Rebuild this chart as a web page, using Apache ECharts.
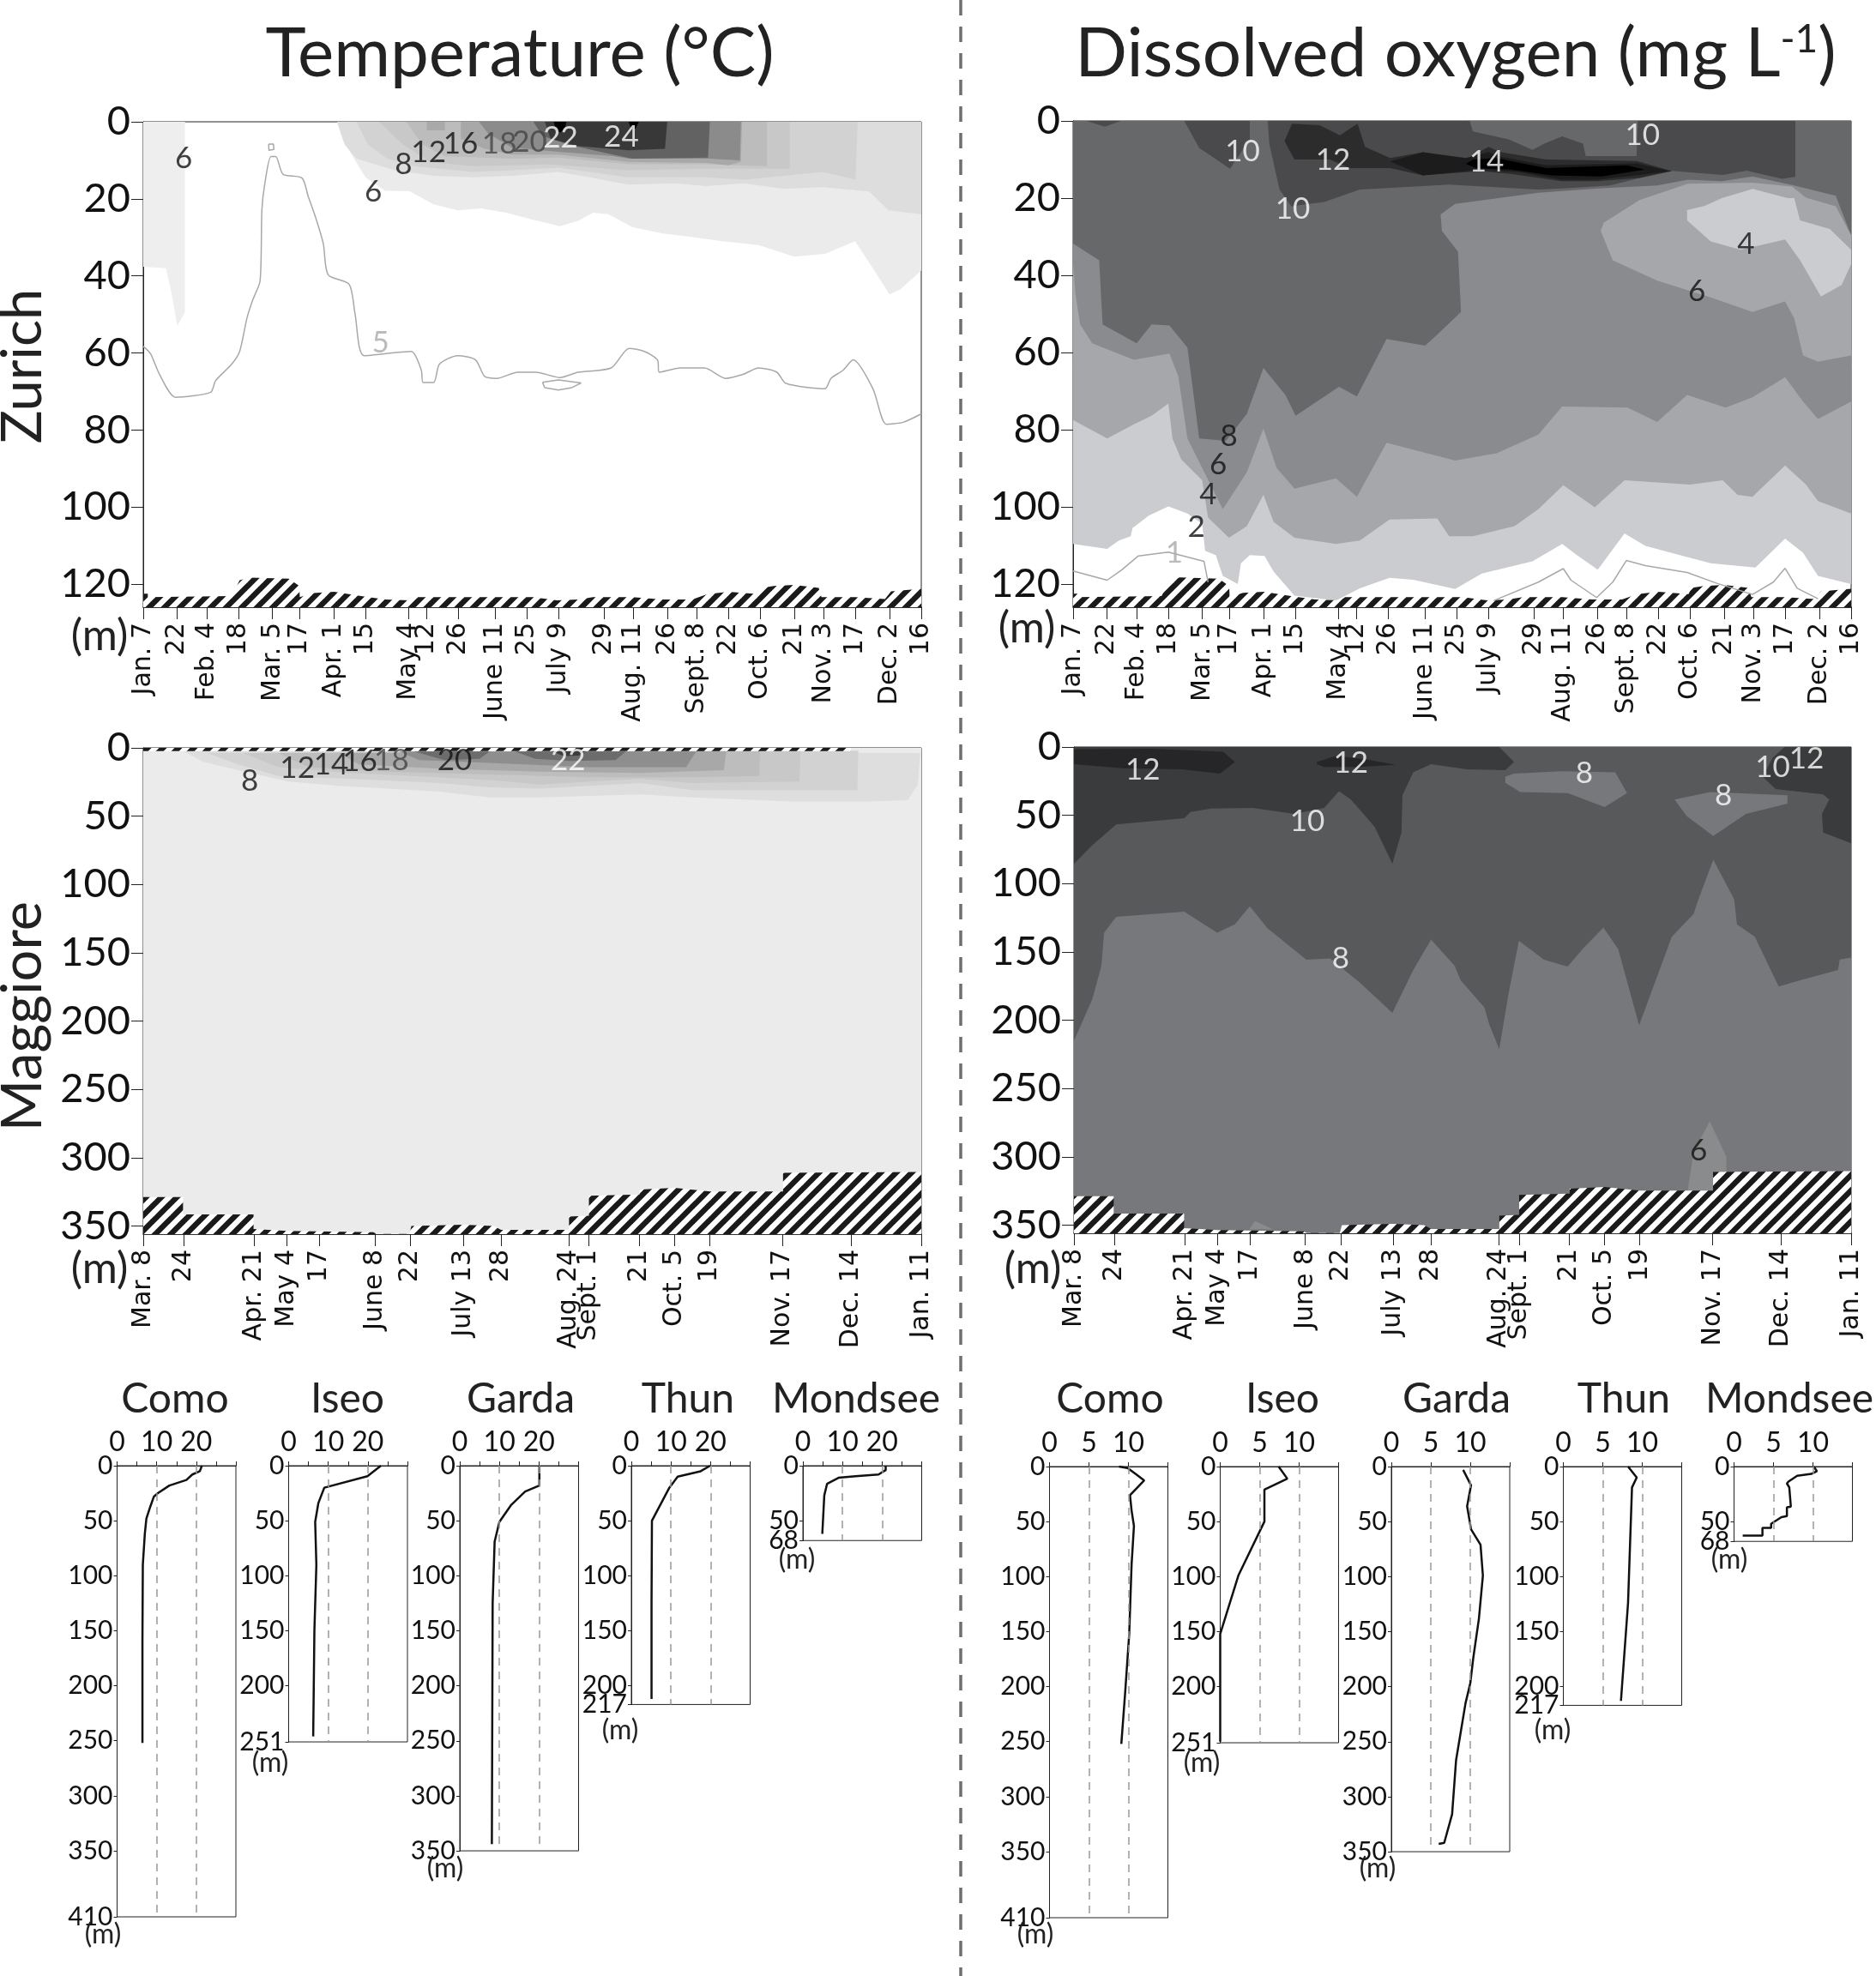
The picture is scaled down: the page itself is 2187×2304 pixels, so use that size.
<!DOCTYPE html>
<html>
<head>
<meta charset="UTF-8">
<title>Temperature and dissolved oxygen</title>
<script src="https://cdn.jsdelivr.net/npm/echarts@6/dist/echarts.min.js"></script>
<style>
html, body { margin: 0; padding: 0; background: #fff; }
#main { width: 2187px; height: 2304px; }
</style>
</head>
<body>
<div id="main"></div>
<script>
// sampling dates, as day of year (Maggiore runs on into the next January)
var zurDays = [7, 22, 35, 49, 64, 76, 91, 105, 124, 132, 146, 162, 176, 190, 210, 223, 238, 251, 265, 279, 294, 307, 321, 336, 350];
var zurDayLabels = ['Jan. 7', '22', 'Feb. 4', '18', 'Mar. 5', '17', 'Apr. 1', '15', 'May 4', '12', '26', 'June 11', '25', 'July 9', '29', 'Aug. 11', '26', 'Sept. 8', '22', 'Oct. 6', '21', 'Nov. 3', '17', 'Dec. 2', '16'];
var magDays = [67, 83, 111, 124, 137, 159, 173, 194, 209, 236, 244, 264, 278, 292, 321, 348, 376];
var magDayLabels = ['Mar. 8', '24', 'Apr. 21', 'May 4', '17', 'June 8', '22', 'July 13', '28', 'Aug. 24', 'Sept. 1', '21', 'Oct. 5', '19', 'Nov. 17', 'Dec. 14', 'Jan. 11'];
var zurDepthTicks = [0, 20, 40, 60, 80, 100, 120];
var magDepthTicks = [0, 50, 100, 150, 200, 250, 300, 350];

// lake bottom, [day, depth]
var zurBottom = [[7,122.5],[9,122.5],[9,123.4],[46,123.1],[49.5,119],[54,118.3],[71.2,118.6],[75.8,120.5],[76,123.4],[81.9,122.3],[91.2,122],[103,123.1],[113.7,124],[124.3,124.2],[127,123.4],[178.8,123.4],[189.4,124.2],[198.7,124],[205.3,123.4],[222.6,123.4],[235.8,124],[249,124],[255.7,122.6],[265,122],[278.3,122.6],[279.6,121],[285,120.5],[294,120.2],[304.8,121],[306,123.4],[320.8,123.4],[334,123.9],[336.7,121.9],[350,121.2]];
var magBottom = [[67,328.8],[82.8,328.8],[82.8,341.5],[110.8,341.5],[110.8,352.2],[124.2,353.7],[158.4,354.6],[159.6,355.8],[172.7,355.8],[173.5,350],[194,349.1],[206.2,350],[209.1,352.8],[236.1,352.8],[236.1,343.1],[244,342.5],[244,327.9],[264.1,327],[264.1,323.3],[278,322.1],[292.1,324.8],[321.1,324.8],[321.1,311.1],[376,310.5]];
var magTopHatch = [[67,2.4],[348,2.4]];

// Zurich temperature, isotherm outlines [day, depth]
var zurT6a = [[7,0],[7,37.6],[17,38],[19.5,44.6],[22,53],[25.4,49.4],[25.4,0]];
var zurT6 = [[92.5,0],[95,4.7],[100.4,10],[105,14.4],[113.7,17.9],[124.3,18],[135,21.4],[145.6,23],[156,22.5],[167,23.6],[177.4,25.2],[190.7,27.1],[198.7,25.7],[205.3,23.6],[212,24],[222.6,27.3],[236,29],[246.4,29.7],[262.4,31],[278.3,32],[294,35],[307.5,34.3],[320.8,31],[328.7,38],[336,44.8],[340.7,43.5],[350,38.6],[350,0]];
var zurT8 = [[92.4,0],[95.8,5.9],[101,9.6],[118,12.6],[135,14],[152,14.4],[169.5,14],[190,13],[203.7,14.4],[220.8,16.3],[241.4,16],[255,16.7],[272,16],[289.4,17.4],[306.5,17],[327,18.1],[335.6,23],[350,24],[350,0]];
var zurT10 = [[101,0],[106,5.9],[114.6,9.6],[126.6,11.5],[152,13],[169.5,12.6],[190,11.9],[220.8,14.4],[255,14.4],[272,15],[306.5,13],[321,15],[322,0]];
var zurT12 = [[111,0],[121.5,5.9],[133.5,10.4],[152,11.5],[186.6,11.1],[220.8,12.6],[255,12.2],[292,12.2],[292,0]];
var zurT14 = [[123,0],[130,5.9],[140,8.9],[169.5,9.6],[190,9.3],[221,11],[255,11],[270,11.3],[282,11.5],[282,0]];
var zurT14b = [[132,0],[132,2.2],[140,2.2],[140,0]];
var zurT16 = [[147,0],[147,4.4],[157.5,7],[169.5,8.5],[190,8.5],[221,10.4],[255,10.7],[265,11.3],[270.5,10.4],[271,0]];
var zurT18 = [[155,0],[159,3],[169.5,6.7],[190,7.8],[214,8.9],[221,9.6],[257,9.6],[270,10],[270.5,0]];
var zurT20 = [[179,0],[183,3.7],[195,6],[214,8.5],[222.6,9.6],[256,9.3],[256.8,0]];
var zurT22 = [[184,0],[186.6,4.4],[198.6,6.3],[221,7.4],[237,7],[238,0]];
var zurT24a = [[188,0],[189,2.2],[191,2.8],[193,1.5],[193.5,0]];
var zurT24b = [[221,0],[222,1.6],[224,1.8],[225.5,0]];
var zurT5 = [[7,58.3],[10.2,60.2],[14.2,65.6],[21.3,71.5],[36.7,70.2],[38.9,67.2],[46,62.9],[49.5,59.6],[52.7,51],[55.3,46.2],[58.5,41.3],[59.3,23],[60.6,16],[63.3,9],[65.4,9],[68.6,13.6],[77,14.6],[79.7,19.3],[83.2,25.2],[86.4,31.7],[88.5,39.7],[97.8,42.2],[100.4,50],[104.4,60.7],[125.1,59.6],[129.6,64.5],[130.4,67.7],[135,67.7],[137.6,62.9],[145.6,60.7],[153.5,61.8],[157.5,66.1],[162.8,66.6],[172.1,65],[180,65],[190.7,66.4],[198.7,65],[213.3,63.9],[221.2,58.8],[227.9,59.6],[233.7,61.8],[234.5,65],[243.8,63.9],[254.4,63.9],[263.7,66.6],[271.7,65.5],[278.3,63.9],[286.3,65],[290.3,67.9],[307.5,69.3],[310.2,66.6],[315.5,64.5],[320,61.8],[328.7,69.3],[334.6,78.5],[342,78],[350,75.8]];
var zurT5lensA = [[183,67.6],[190,67],[200,67.8],[196,69],[190,69.6],[184,69],[183,67.6]];
var zurT5lensB = [[62.3,5.8],[64.4,5.8],[64.6,7.2],[62.4,7.4],[62.3,5.8]];

// Zurich oxygen, isopleth outlines [day, depth]
var zurO2 = [[7,109.6],[22,110.9],[27.2,108.7],[32.4,107.6],[33.2,105.5],[40.3,102.3],[49,99.9],[57.4,101.7],[63.9,104.4],[65.2,111.4],[69.9,112.5],[73,117.9],[79.6,120],[81,114.6],[84.9,112.5],[91.4,112.7],[95.4,116.8],[104.6,123],[122.9,124.3],[133.4,121.1],[146.5,118.4],[157,118.9],[175.4,121.3],[187.2,117.3],[209.5,114.1],[222.6,109.6],[229.1,112.5],[238.3,116.3],[250.1,106.9],[259.3,110.1],[277.7,113],[288.1,114.6],[307.8,115.7],[320.9,108.2],[328.8,111.9],[335.4,117.9],[350,120]];
var zurO4 = [[7,77.5],[22,82.3],[33.8,78.6],[41.6,76.4],[49,73.2],[50.8,82.3],[54.7,87.7],[63.9,93.1],[66.5,102.8],[75.7,108],[83.6,105],[90.9,96.9],[95.4,103.9],[104.6,108],[122.9,109.6],[133.4,108.7],[146.5,103.3],[167.5,103],[172.8,107.6],[183.2,107.6],[201.6,105],[212.1,100.6],[223.1,94.4],[237,100.1],[250.1,93.1],[279,94.2],[293.4,93.1],[300,96.9],[306.5,97.4],[320.9,89.3],[330.1,94.2],[335.4,98.5],[350,101.7]];
var zurO6 = [[7,37],[8,44.7],[10.1,52.7],[15.4,57.6],[33.8,61.9],[49.5,60.3],[53.4,66.2],[57.4,82.3],[73,100.6],[83.6,91],[90.9,79.7],[96.7,89.9],[104.6,95.3],[122.9,92.6],[132.1,97.4],[145.2,83.4],[175.4,88],[193.7,86.1],[212.1,81.3],[222.6,74],[251.4,74.3],[264.5,78],[277.7,71],[294.7,74.3],[306.5,71.6],[320.9,66.4],[328.8,72.7],[335.4,77.2],[350,72.7]];
var zurO8 = [[7,31.8],[18.5,36.1],[20,52.7],[35,57.6],[41.6,52.7],[49.5,53],[57.4,58.7],[62.6,82.3],[74.4,82.9],[83.6,75.9],[90.9,64],[100.6,71],[105.1,76.4],[124.2,68.9],[132.1,71.4],[145.2,56.5],[162.2,58.2],[167.5,55.4],[178,49.5],[176.7,33.9],[169.6,28.5],[169,24.2],[175.4,21.5],[212.1,18.6],[238.3,17.5],[264.5,16.7],[278,15.2],[293,15.6],[306.6,14.4],[324.9,16.7],[343.2,19.4],[350,29.6]];
var zurOlens6 = [[239.6,28.5],[244.9,36.1],[264.5,41.4],[288.1,45.7],[306.5,49.5],[320.9,46.8],[324.9,51.1],[328.8,60.8],[335.4,62.4],[350,60.8],[350,29.6],[343.2,22.1],[330.1,19.9],[324,17],[306.6,16],[278,16.3],[256.7,20.5],[240.9,26.4]];
var zurOlens4 = [[277.7,23.1],[277.7,25.8],[288.1,31.2],[301.3,33.4],[320.9,30.7],[327.5,36.1],[336.7,45.5],[345.8,42.5],[350,37.1],[350,33.4],[340.6,28],[327.5,25.8],[324.9,20],[322,20],[306.6,17.6],[293,20],[285.5,22]];
var zurO10 = [[92.8,0],[93.5,5.9],[98,17.8],[103.2,22.1],[117.7,21],[133.4,17.8],[172.8,16.5],[212.1,17.8],[222.6,17.5],[243.6,16.7],[269.8,12.9],[293.4,14],[303.9,12.9],[319.6,15],[325.4,14.5],[325.4,0]];
var zurO10a = [[13,0],[21,1.5],[28,0]];
var zurO10b = [[56,0],[62.6,7],[76.2,12.4],[84.9,4.8],[84.9,0]];
var zurO10hole = [[181.9,0],[183.2,2.7],[199,4.8],[209.5,7.5],[214.7,5.9],[222.6,4],[231.8,5.9],[233,9.1],[255.4,9.1],[256,0]];
var zurO12 = [[103.5,0.7],[115.7,1.1],[124.6,3.7],[132.4,0.7],[135.7,6.7],[146.8,9.6],[161.2,8.1],[180.1,10],[190.1,6.7],[195.6,8.1],[215.6,10],[255.6,10.4],[271.1,13],[256.7,14.8],[237.8,15.6],[222.3,15.6],[200,13.7],[186.8,13],[161.2,14.1],[146.8,12.2],[129,12.2],[120.2,10],[104.6,10],[100.2,5.2]];
var zurO13 = [[146.8,10.5],[161.2,8.1],[180.1,9.6],[190.1,8.1],[195.6,9.3],[215.6,11.5],[255.6,11],[270,13],[256.7,14],[237.8,15.2],[222.3,15.2],[204,13.3],[186.8,12.6],[161.2,14.1]];
var zurO14 = [[180.1,11.1],[183.4,10],[193.4,9.6],[215.6,12.2],[251.2,11.5],[259,12.6],[240,14.4],[217.8,14.1],[200,12.6],[184.6,12.2]];
var zurO1a = [[7,116.6],[22,119],[28.5,116.3],[35.8,112.7],[49,111.7],[64.7,114.1],[66.5,119.5]];
var zurO1b = [[192.4,124.3],[212.1,119.5],[223.1,116],[226.5,119],[237.8,123.5],[244.9,119.5],[250.9,113.9],[259.3,115.2],[277.7,117],[290.8,119.8],[306.5,122.7],[315.7,119.5],[320.9,115.9],[326.2,121.1],[335.4,123.8]];

// Maggiore temperature
var magT8 = [[82.6,2],[90.6,10],[104.6,16.3],[124.6,24.7],[144.6,27.8],[184.6,32],[204.6,36.2],[224.6,36.2],[264.6,34.1],[284.6,36.2],[324.6,39.3],[354.6,39.3],[370.6,38.3],[374.6,26.8],[375.6,3.8]];
var magT10 = [[92.6,3.8],[104.6,12.1],[120.6,20.5],[148.6,22.6],[184.6,25.7],[204.6,28.9],[224.6,29.9],[264.6,25.7],[284.6,31],[350.6,31],[351,2]];
var magT12 = [[106.6,3.8],[120.6,14.2],[148.6,18.4],[184.6,21.5],[204.6,23.6],[224.6,26.8],[264.6,22.6],[284.6,25.7],[327.6,24.7],[328,2]];
var magT14 = [[120.6,3.8],[132.6,14.2],[164.6,17.4],[204.6,19.5],[244.6,21.5],[284.6,21.5],[311.6,20.5],[312,2]];
var magT16 = [[144.6,3.8],[152.6,12.1],[184.6,15.3],[224.6,17.4],[264.6,18.4],[297.6,16.3],[298.6,2]];
var magT18 = [[168.6,2.7],[176.6,9],[204.6,11],[244.6,14.2],[282.6,14.2],[286.6,2.7]];
var magT20a = [[174.6,2.7],[186.6,9],[200.6,8],[204.6,2.7]];
var magT20b = [[214.6,2.7],[222.6,8],[236.6,9.6],[254.6,9],[258.6,2.7]];
var magT22 = [[228.6,2],[234,6],[240,5.6],[243,2]];

// Maggiore oxygen
var magO8 = [[67,215],[74.3,184.6],[77.9,160.2],[79,135.9],[83.8,124.3],[110.9,120.6],[123.9,135.9],[131,129.8],[136.9,116.7],[144,132.8],[159.4,155.7],[168.8,154.7],[180.6,172.4],[193.6,194.6],[201.9,163.3],[209,141],[218.4,160.2],[220.8,170.9],[230.2,190.7],[232.1,202.9],[236.1,221.1],[239.7,181.5],[243.9,141.9],[253.9,155.7],[263.3,160.8],[269.2,148],[277.5,132.2],[283.4,148],[291.7,203.8],[304.7,138.9],[313.4,122.1],[315.3,111.5],[321.2,82.5],[329.5,111.5],[330.6,129.8],[337.7,138.9],[347.2,175.4],[355.4,170.9],[370.8,163.3],[371.5,155.6],[376,154.1]];
var magO10a = [[67,0],[67,85.6],[74.3,71.9],[83.8,56.7],[110.9,52.1],[113.3,47.5],[121.6,45.1],[138.1,44.5],[154.6,49],[166.5,44.5],[172.4,32.3],[177.1,38.4],[186.5,58.2],[193.6,85.6],[197.2,62.7],[197.6,35.3],[201.9,18.6],[209,12.5],[223.2,16.4],[238.5,17],[242,11],[236.1,0]];
var magO10b = [[349.5,0],[344.8,7.9],[340.8,21.6],[346,30.8],[364.9,34.7],[367.3,38.4],[364.4,49],[364.9,62.7],[376,70.4],[376,0]];
var magO12a = [[67,1.8],[98,1.2],[126.3,3.4],[131,11],[125.1,19.5],[109.8,16.4],[86.1,15.5],[67,12.5]];
var magO12b = [[163.6,11],[171.2,6.4],[184.2,9.4],[194.8,13.1],[180.6,14.6],[166.5,14.6],[163.6,12.5]];
var magOlens1 = [[238.5,21.6],[242,19.5],[260.9,17.7],[282.2,18.6],[286.9,33.8],[278,43.9],[263.3,33.8],[244.4,32.9],[238.5,26.2]];
var magOlens2 = [[305.8,38.4],[320,32.9],[350.7,35.3],[350.7,41.4],[334.2,49],[321.2,65.2],[310.6,50.6]];
var magO6a = [[311,325],[313.4,296],[319.8,274],[326.4,300],[326.4,312],[321,325]];
var magO6b = [[136.7,353],[139,347],[146,353]];

// contour labels, [day, depth, text]
var zurTLabels = [[24.8,9.6,'6'],[108.4,18.2,'6'],[121.7,11,'8'],[132.8,8,'12'],[146.9,5.8,'16']];
var zurTLabelsGrey = [[164,5.8,'18'],[177.4,5.3,'20']];
var zurTLabelsWhite = [[191,4.2,'22'],[217.8,3.9,'24']];
var zurTLabelsPale = [[111.6,57.3,'5']];
var zurOLabels = [[303.6,32,'4'],[282,44.1,'6'],[75.7,81.8,'8'],[71,89,'6'],[66.5,96.9,'4'],[61.3,105.2,'2']];
var zurOLabelsWhite = [[81.7,8,'10'],[121.6,10.2,'12'],[103.8,22.9,'10'],[189.3,10.5,'14'],[258,3.8,'10']];
var zurOLabelsPale = [[51.6,112,'1']];
var magTLabels = [[109.3,24.6,'8'],[128.2,14.6,'12'],[141.6,12.5,'14'],[153,10,'16'],[190.7,9.4,'20']];
var magTLabelsGrey = [[165.6,9.4,'18']];
var magTLabelsWhite = [[235.7,9.1,'22']];
var magOLabels = [[315.3,295.8,'6']];
var magOLabelsWhite = [[94.4,17,'12'],[177.1,11.6,'12'],[159.8,54.5,'10'],[269.9,19.2,'8'],[325.2,35.3,'8'],[344.8,14.6,'10'],[358.3,8.8,'12'],[173,155,'8']];

// mean profiles of the other lakes, [value, depth]
var lakeNames = ['Como', 'Iseo', 'Garda', 'Thun', 'Mondsee'];
var lakeDepthTicks = [
    [0, 50, 100, 150, 200, 250, 300, 350, 410],
    [0, 50, 100, 150, 200, 251],
    [0, 50, 100, 150, 200, 250, 300, 350],
    [0, 50, 100, 150, 200, 217],
    [0, 50, 68]
];
var comoT = [[21.4,0],[20.9,5],[19,8],[17.5,13],[13.2,18],[10.3,25],[9.3,28],[8.4,37],[7.4,48],[7,62],[6.5,90],[6.4,160],[6.4,252]];
var iseoT = [[23.3,0],[19.9,9.5],[9,20],[7.5,34],[6.7,51],[7,90],[6.5,150],[6.2,246]];
var gardaT = [[20.1,0],[20.1,18],[16.5,23.5],[12.9,36],[10,51],[8.8,69],[8.3,125],[8.1,344]];
var thunT = [[19.9,0],[17.5,5],[11.7,10],[9.6,20],[5.2,50],[5.1,125],[5.1,212]];
var mondseeT = [[20.9,0],[20.9,4],[19.1,8],[13.3,9.5],[9,11],[6.1,16.5],[5.4,27],[4.9,62]];
var comoO = [[8.8,0],[9.9,1.4],[10.9,6.7],[12,12.6],[11.4,17],[10.2,26],[10.4,40],[10.7,54],[10.4,89],[10.1,152],[9.6,204],[9.1,252]];
var iseoO = [[7.4,0],[8.5,11],[5.6,21],[5.6,50],[2.3,99],[0,152],[0,250]];
var gardaO = [[9.1,3],[10.1,17],[9.6,36],[10.1,57],[11.3,71],[11.6,99],[11.1,138],[10.4,173],[10,197],[9.4,215],[8.2,267],[7.7,316],[6.7,342],[6,343]];
var thunO = [[8.2,0],[9.3,10],[8.7,19],[8.2,124],[7.3,213]];
var mondseeO = [[10.1,0],[10.5,4.2],[9.8,6.7],[8,8.4],[6.9,13.6],[6.7,15.4],[7,18.9],[7.2,36.4],[6.7,37],[6.7,45],[6,46],[4.7,52],[4.7,55.7],[3.6,55.7],[3.6,62.7],[1.1,62.7]];

var fontName = 'Lato';
var series = [], grids = [], xAxes = [], yAxes = [], lastTickAxes = [];

// diagonal hatching for the lake bottom
function hatchPattern() {
    var c = document.createElement('canvas');
    c.width = 18; c.height = 18;
    var g = c.getContext('2d');
    g.fillStyle = '#fff';
    g.fillRect(0, 0, 18, 18);
    g.strokeStyle = '#1a1a1a';
    g.lineWidth = 6.5;
    [[-9, 9, 9, -9], [-9, 27, 27, -9], [9, 27, 27, 9]].forEach(function (s) {
        g.beginPath(); g.moveTo(s[0], s[1]); g.lineTo(s[2], s[3]); g.stroke();
    });
    return { image: c, repeat: 'repeat' };
}
var hatch = hatchPattern();

function addPlot(box, days, dayLabels, depthTicks, maxDepth) {
    var i = grids.length;
    grids.push({ left: box[0], top: box[1], width: box[2], height: box[3], show: true, borderColor: '#222', borderWidth: 1, backgroundColor: '#fff' });
    xAxes.push({
        gridIndex: i, type: 'value', min: days[0], max: days[days.length - 1], splitLine: { show: false },
        axisLine: { show: true, onZero: false, lineStyle: { color: '#111', width: 1.5 } },
        axisTick: { show: true, length: 14, customValues: days, lineStyle: { color: '#222' } },
        axisLabel: {
            customValues: days, rotate: 90, margin: 18, color: '#111', fontFamily: 'DejaVu Sans', fontSize: 30,
            showMinLabel: true, showMaxLabel: true,
            formatter: function (v) { return dayLabels[days.indexOf(v)]; }
        }
    });
    yAxes.push({
        gridIndex: i, type: 'value', inverse: true, min: 0, max: maxDepth, splitLine: { show: false },
        axisLine: { show: true, onZero: false, lineStyle: { color: '#222' } },
        axisTick: { show: true, length: 14, customValues: depthTicks, lineStyle: { color: '#222' } },
        axisLabel: { customValues: depthTicks, margin: 15, color: '#111', fontFamily: fontName, fontSize: 47, showMinLabel: true }
    });
    return i;
}

function lakeDepthAxis(i, maxDepth, ticks) {
    return {
        gridIndex: i, type: 'value', position: 'left', inverse: true, min: 0, max: maxDepth, splitLine: { show: false },
        axisLine: { show: true, onZero: false, lineStyle: { color: '#222' } },
        axisTick: { show: true, length: 4, customValues: ticks, lineStyle: { color: '#222' } },
        axisLabel: { customValues: ticks, margin: 5, color: '#111', fontFamily: fontName, fontSize: 30, showMinLabel: true, showMaxLabel: true }
    };
}

function addLake(box, xTicks, xShown, depthTicks, guides, profile) {
    var i = grids.length;
    var maxDepth = depthTicks[depthTicks.length - 1];
    grids.push({ left: box[0], top: box[1], width: box[2], height: box[3], show: true, borderColor: '#222', borderWidth: 1 });
    xAxes.push({
        gridIndex: i, type: 'value', position: 'top', min: 0, max: xTicks[xTicks.length - 1], splitLine: { show: false },
        axisLine: { show: true, onZero: false, lineStyle: { color: '#222' } },
        axisTick: { show: true, length: 5, customValues: xTicks, lineStyle: { color: '#222' } },
        axisLabel: { customValues: xShown, margin: 11, color: '#111', fontFamily: fontName, fontSize: 32 }
    });
    // the last tick sits on its own axis, echarts drops one of two close labels otherwise
    yAxes.push(lakeDepthAxis(i, maxDepth, depthTicks.slice(0, -1)));
    lastTickAxes.push(lakeDepthAxis(i, maxDepth, depthTicks.slice(-1)));
    series.push({
        type: 'line', xAxisIndex: i, yAxisIndex: i, data: profile, showSymbol: false, silent: true,
        lineStyle: { color: '#111', width: 2.5 },
        markLine: {
            silent: true, symbol: 'none', label: { show: false }, animation: false,
            lineStyle: { color: '#999', type: [9, 7], width: 1.5 },
            data: guides.map(function (g) { return { xAxis: g }; })
        }
    });
}

function polygon(i, verts, color) {
    series.push({
        type: 'custom', coordinateSystem: 'cartesian2d', xAxisIndex: i, yAxisIndex: i, silent: true, clip: true,
        data: [verts[0]],
        renderItem: function (params, api) {
            return { type: 'polygon', shape: { points: verts.map(function (v) { return api.coord(v); }) }, style: { fill: color } };
        }
    });
}

// outline reaching up to the surface
function fromSurface(b) {
    return [[b[0][0], 0]].concat(b, [[b[b.length - 1][0], 0]]);
}

function contour(i, data, smooth) {
    series.push({ type: 'line', xAxisIndex: i, yAxisIndex: i, data: data, showSymbol: false, silent: true, smooth: smooth || false, lineStyle: { color: '#a8a8a8', width: 1.5 } });
}

function bottomHatch(i, data, origin) {
    series.push({ type: 'line', xAxisIndex: i, yAxisIndex: i, data: data, showSymbol: false, silent: true, lineStyle: { width: 0 }, areaStyle: { origin: origin, color: hatch, opacity: 1 } });
}

function labels(i, data, color) {
    series.push({
        type: 'scatter', xAxisIndex: i, yAxisIndex: i, data: data, symbolSize: 0, silent: true, z: 20,
        label: { show: true, position: 'inside', color: color, fontFamily: fontName, fontSize: 35, formatter: function (p) { return p.value[2]; } }
    });
}

// Zurich temperature
var zt = addPlot([167, 142, 907, 566], zurDays, zurDayLabels, zurDepthTicks, 126);
polygon(zt, zurT6a, '#eeeeee');
polygon(zt, zurT6, '#ebebeb');
polygon(zt, zurT8, '#dddddd');
polygon(zt, zurT10, '#d2d2d2');
polygon(zt, zurT12, '#c8c8c8');
polygon(zt, zurT14, '#bcbcbc');
polygon(zt, zurT14b, '#a9a9a9');
polygon(zt, zurT16, '#a8a8a8');
polygon(zt, zurT18, '#8b8b8b');
polygon(zt, zurT20, '#626262');
polygon(zt, zurT22, '#383838');
polygon(zt, zurT24a, '#000');
polygon(zt, zurT24b, '#000');
contour(zt, zurT5, 0.25);
contour(zt, zurT5lensA);
contour(zt, zurT5lensB);
bottomHatch(zt, zurBottom, 'end');
labels(zt, zurTLabels, '#111');
labels(zt, zurTLabelsGrey, '#444');
labels(zt, zurTLabelsWhite, '#fff');
labels(zt, zurTLabelsPale, '#aaa');

// Zurich oxygen
var zo = addPlot([1251, 141, 907, 567], zurDays, zurDayLabels, zurDepthTicks, 126);
polygon(zo, fromSurface(zurO2), '#cbcccf');
polygon(zo, fromSurface(zurO4), '#a6a7aa');
polygon(zo, fromSurface(zurO6), '#8a8b8e');
polygon(zo, fromSurface(zurO8), '#67686a');
polygon(zo, zurOlens6, '#a6a7aa');
polygon(zo, zurOlens4, '#cbcccf');
polygon(zo, zurO10, '#4a4a4c');
polygon(zo, zurO10a, '#4a4a4c');
polygon(zo, zurO10b, '#4a4a4c');
polygon(zo, zurO10hole, '#67686a');
polygon(zo, zurO12, '#2c2c2d');
polygon(zo, zurO13, '#1c1c1c');
polygon(zo, zurO14, '#000');
contour(zo, zurO1a);
contour(zo, zurO1b);
bottomHatch(zo, zurBottom, 'end');
labels(zo, zurOLabels, '#111');
labels(zo, zurOLabelsWhite, '#fff');
labels(zo, zurOLabelsPale, '#aaa');

// Maggiore temperature
var mt = addPlot([167, 872, 907, 567], magDays, magDayLabels, magDepthTicks, 356);
polygon(mt, [[67, 0], [67, 356], [376, 356], [376, 0]], '#ebebeb');
polygon(mt, magT8, '#dedede');
polygon(mt, magT10, '#d2d2d2');
polygon(mt, magT12, '#c8c8c8');
polygon(mt, magT14, '#bdbdbd');
polygon(mt, magT16, '#a8a8a8');
polygon(mt, magT18, '#8e8e8e');
polygon(mt, magT20a, '#6c6c6c');
polygon(mt, magT20b, '#6c6c6c');
polygon(mt, magT22, '#3c3c3c');
bottomHatch(mt, magBottom, 'end');
bottomHatch(mt, magTopHatch, 'start');
labels(mt, magTLabels, '#111');
labels(mt, magTLabelsGrey, '#444');
labels(mt, magTLabelsWhite, '#fff');

// Maggiore oxygen
var mo = addPlot([1252, 871, 906, 567], magDays, magDayLabels, magDepthTicks, 356);
polygon(mo, [[67, 0], [67, 356], [376, 356], [376, 0]], '#77787b');
polygon(mo, fromSurface(magO8), '#58595b');
polygon(mo, magO10a, '#3a3b3d');
polygon(mo, magO10b, '#3a3b3d');
polygon(mo, magO12a, '#262628');
polygon(mo, magO12b, '#262628');
polygon(mo, magOlens1, '#77787b');
polygon(mo, magOlens2, '#77787b');
polygon(mo, magO6a, '#8a8b8d');
polygon(mo, magO6b, '#8a8b8d');
bottomHatch(mo, magBottom, 'end');
labels(mo, magOLabels, '#111');
labels(mo, magOLabelsWhite, '#fff');

// lake profiles
var tempProfiles = [comoT, iseoT, gardaT, thunT, mondseeT];
var oxyProfiles = [comoO, iseoO, gardaO, thunO, mondseeO];
var tempLefts = [136.5, 336.5, 536, 736, 936];
var oxyLefts = [1223.5, 1422.5, 1622, 1822.5, 2021.5];
var pxPerMetre = 1.283;
lakeNames.forEach(function (n, k) {
    var maxD = lakeDepthTicks[k][lakeDepthTicks[k].length - 1];
    addLake([tempLefts[k], 1709, 138.5, maxD * pxPerMetre], [0, 5, 10, 15, 20, 25, 30], [0, 10, 20], lakeDepthTicks[k], [10, 20], tempProfiles[k]);
});
lakeNames.forEach(function (n, k) {
    var maxD = lakeDepthTicks[k][lakeDepthTicks[k].length - 1];
    addLake([oxyLefts[k], 1710, 138, maxD * pxPerMetre], [0, 5, 10, 15], [0, 5, 10], lakeDepthTicks[k], [5, 10], oxyProfiles[k]);
});

// texts outside the axes
function text(x, y, str, size, extra) {
    var o = {
        type: 'text', x: x, y: y, z: 30, silent: true,
        style: Object.assign({ text: str, fill: '#222', font: size + 'px ' + fontName, align: 'center', verticalAlign: 'middle' }, extra && extra.style || {})
    };
    if (extra && extra.rotation) o.rotation = extra.rotation;
    return o;
}
var gfx = [];
gfx.push(text(606, 63, 'Temperature (°C)', 80));
gfx.push(text(1697, 63, '{a|Dissolved oxygen (mg L}{b|-1}{a|)}', 80, {
    style: { rich: { a: { font: '80px ' + fontName, fill: '#222' }, b: { font: '46px ' + fontName, fill: '#222', verticalAlign: 'top', padding: [0, 0, 30, 0] } } }
}));
gfx.push(text(27, 427, 'Zurich', 65, { rotation: Math.PI / 2 }));
gfx.push(text(27, 1185, 'Maggiore', 65, { rotation: Math.PI / 2 }));
[[116, 742], [1197, 733], [116, 1480], [1204, 1480]].forEach(function (p) { gfx.push(text(p[0], p[1], '(m)', 50)); });
[[120, 2256], [315, 2056], [519, 2179], [723, 2018], [929, 1819], [1207, 2256], [1401, 2056], [1606, 2179], [1810, 2018], [2016, 1819]].forEach(function (p) {
    gfx.push(text(p[0], p[1], '(m)', 32));
});
[[204, 'Como'], [405, 'Iseo'], [607, 'Garda'], [802, 'Thun'], [998, 'Mondsee'], [1294, 'Como'], [1495, 'Iseo'], [1698, 'Garda'], [1893, 'Thun'], [2086, 'Mondsee']].forEach(function (p) {
    gfx.push(text(p[0], 1632, p[1], 48));
});
gfx.push({ type: 'line', z: 30, silent: true, shape: { x1: 1120, y1: 0, x2: 1120, y2: 2304 }, style: { stroke: '#6e6e6e', lineWidth: 3.5, lineDash: [18, 13] } });

var chart = echarts.init(document.getElementById('main'), null, { renderer: 'canvas' });
chart.setOption({
    animation: false,
    backgroundColor: '#fff',
    grid: grids,
    xAxis: xAxes,
    yAxis: yAxes.concat(lastTickAxes),
    series: series,
    graphic: gfx
});
</script>
</body>
</html>
